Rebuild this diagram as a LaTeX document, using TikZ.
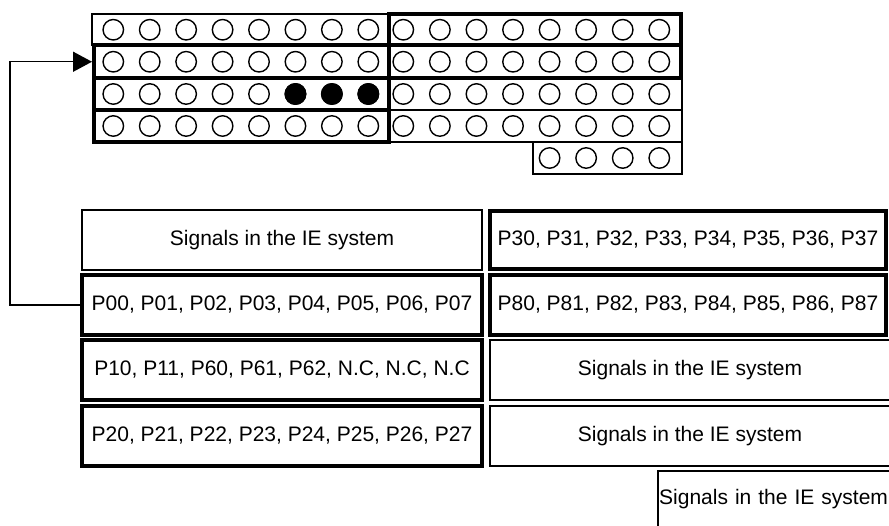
\documentclass[tikz,border=0pt]{standalone}
\usepackage{fontspec}
\setmainfont{Liberation Sans}
\usetikzlibrary{arrows.meta}
\begin{document}
\begin{tikzpicture}[x=1pt,y=-1pt,
  lbl/.style={font=\fontsize{21}{25}\selectfont},
  thinbox/.style={draw, line width=1.5pt, rectangle, inner sep=0pt, lbl},
  thickbox/.style={draw, line width=4pt, rectangle, inner sep=0pt, lbl},
  hole/.style={circle, draw, line width=1.4pt, minimum size=20.5pt, inner sep=0pt},
  pin/.style={hole, fill=black},
  link/.style={line width=1.5pt, -{Triangle[length=19pt,width=20pt]}}]
\useasboundingbox (0,0) rectangle (889,526);
\clip (0,0) rectangle (889,526);
% ---- top grid: thin rows ----
\node[thinbox, minimum width=297pt, minimum height=31.5pt] (gl1) at (240.5,29.75) {};
\node[thinbox, minimum width=293pt, minimum height=32pt] (gr3) at (535.5,94) {};
\node[thinbox, minimum width=293pt, minimum height=32pt] (gr4) at (535.5,126) {};
\node[thinbox, minimum width=149pt, minimum height=32pt] (gr5) at (607.5,158) {};
% ---- top grid: thick rows ----
\node[thickbox, minimum width=295pt, minimum height=32.5pt] (gl2) at (241.5,61.75) {};
\node[thickbox, minimum width=295pt, minimum height=32pt] (gl3) at (241.5,94) {};
\node[thickbox, minimum width=295pt, minimum height=32pt] (gl4) at (241.5,126) {};
\node[thickbox, minimum width=292pt, minimum height=31.5pt] (gr1) at (535,29.75) {};
\node[thickbox, minimum width=292pt, minimum height=32.5pt] (gr2) at (535,61.75) {};
% ---- holes ----
\foreach \r/\y in {1/29.75,2/61.75,3/94,4/126}{
  \foreach \c in {1,...,8}{
    \node[hole] (hl-\r-\c) at ({113.3+36.43*(\c-1)},\y) {};
    \node[hole] (hr-\r-\c) at ({403.3+36.57*(\c-1)},\y) {};
  }
}
\foreach \c in {5,...,8}{
  \node[hole] (hr-5-\c) at ({403.3+36.57*(\c-1)},158) {};
}
\foreach \c in {6,7,8}{
  \node[pin] (pl-3-\c) at ({113.3+36.43*(\c-1)},94) {};
}
% ---- lower table ----
\node[thinbox, minimum width=400pt, minimum height=60pt] (s1) at (282,240) {Signals in the IE system};
\node[thickbox, minimum width=400pt, minimum height=60pt] (p0) at (282,305) {P00, P01, P02, P03, P04, P05, P06, P07};
\node[thickbox, minimum width=400pt, minimum height=60pt] (p1) at (282,370) {P10, P11, P60, P61, P62, N.C, N.C, N.C};
\node[thickbox, minimum width=400pt, minimum height=60pt] (p2) at (282,436) {P20, P21, P22, P23, P24, P25, P26, P27};
\node[thickbox, minimum width=396pt, minimum height=58pt] (p3) at (688,240) {P30, P31, P32, P33, P34, P35, P36, P37};
\node[thickbox, minimum width=396pt, minimum height=60pt] (p8) at (688,305) {P80, P81, P82, P83, P84, P85, P86, P87};
\node[thinbox, minimum width=400pt, minimum height=60pt] (s2) at (690,370) {Signals in the IE system};
\node[thinbox, minimum width=400pt, minimum height=60pt] (s3) at (690,436) {Signals in the IE system};
\node[thinbox, inner xsep=1.2pt, text width=239.6pt, align=left, minimum height=56pt] (s4) at (779,499) {Signals in the IE system};
% ---- connector ----
\coordinate (turn) at (10,305);
\draw[link] (p0.west) -- (turn) |- (gl2.west);
\end{tikzpicture}
\end{document}
